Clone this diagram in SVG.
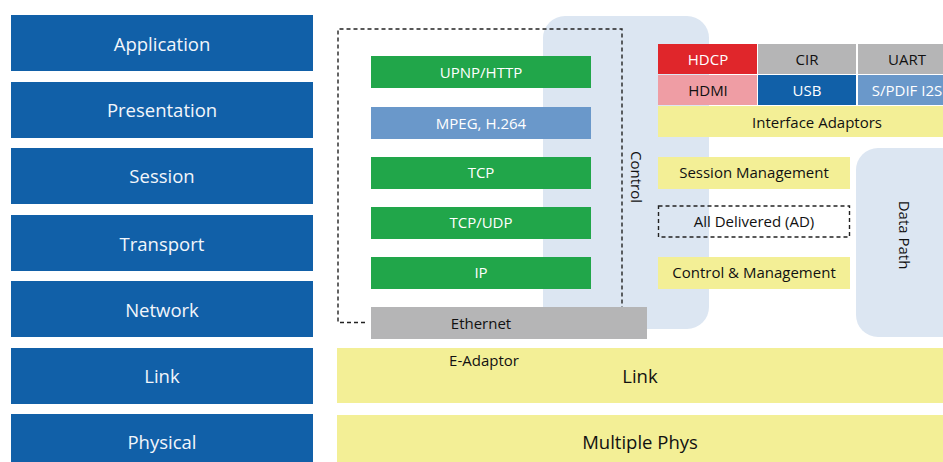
<svg xmlns="http://www.w3.org/2000/svg" width="943" height="462" viewBox="0 0 943 462">
<style>
text{font-family:"Open Sans","Liberation Sans",sans-serif;text-anchor:middle;dominant-baseline:central}
.osi{fill:#1160A8}
.osit{fill:#F2F6FB;font-size:18.5px}
.g{fill:#21A64A}
.lb{fill:#6A98CA}
.gr{fill:#B5B5B6}
.y{fill:#F3EF96}
.w{fill:#FFFFFF;font-size:15px}
.k{fill:#111111;font-size:15px}
.panel{fill:#DCE6F2}
.dash{fill:none;stroke:#222;stroke-width:1.4;stroke-dasharray:4 3}
</style>
<rect width="943" height="462" fill="#FFFFFF"/>
<g id="osi">
<g id="application"><rect class="osi" x="11" y="15" width="302" height="56"/><text class="osit" x="162" y="43">Application</text></g>
<g id="presentation"><rect class="osi" x="11" y="82" width="302" height="56"/><text class="osit" x="162" y="109">Presentation</text></g>
<g id="session"><rect class="osi" x="11" y="148" width="302" height="56"/><text class="osit" x="162" y="175">Session</text></g>
<g id="transport"><rect class="osi" x="11" y="215" width="302" height="56"/><text class="osit" x="162" y="243">Transport</text></g>
<g id="network"><rect class="osi" x="11" y="281" width="302" height="56"/><text class="osit" x="162" y="309">Network</text></g>
<g id="link"><rect class="osi" x="11" y="348" width="302" height="56"/><text class="osit" x="162" y="375">Link</text></g>
<g id="physical"><rect class="osi" x="11" y="414" width="302" height="50"/><text class="osit" x="162" y="441">Physical</text></g>
</g>
<g id="control-panel"><rect class="panel" x="543" y="16" width="166" height="313" rx="22"/><text class="k" transform="translate(637,177) rotate(90)">Control</text></g>
<g id="datapath-panel"><rect class="panel" x="856" y="148" width="110" height="189" rx="22"/><text class="k" transform="translate(905,235) rotate(90)">Data Path</text></g>
<g id="connectors"><path class="dash" d="M365,322.5 H338 V29 H622 V307"/></g>
<g id="upnp"><rect class="g" x="371" y="56" width="220" height="32"/><text class="w" x="481" y="72">UPNP/HTTP</text></g>
<g id="mpeg"><rect class="lb" x="371" y="107" width="220" height="32"/><text class="w" x="481" y="123">MPEG, H.264</text></g>
<g id="tcp"><rect class="g" x="371" y="157" width="220" height="32"/><text class="w" x="481" y="172">TCP</text></g>
<g id="tcpudp"><rect class="g" x="371" y="207" width="220" height="32"/><text class="w" x="481" y="222">TCP/UDP</text></g>
<g id="ip"><rect class="g" x="371" y="257" width="220" height="32"/><text class="w" x="481" y="272">IP</text></g>
<g id="ethernet"><rect class="gr" x="371" y="307" width="276" height="32"/><text class="k" x="481" y="323">Ethernet</text></g>
<g id="hdcp"><rect fill="#E0262B" x="658" y="44" width="99" height="30"/><text class="w" x="708" y="59">HDCP</text></g>
<g id="cir"><rect class="gr" x="758" y="44" width="98" height="30"/><text class="k" x="807" y="59">CIR</text></g>
<g id="uart"><rect class="gr" x="858" y="44" width="90" height="30"/><text class="k" x="907" y="59">UART</text></g>
<g id="hdmi"><rect fill="#EF9DA4" x="658" y="75" width="99" height="30"/><text class="k" x="708" y="90">HDMI</text></g>
<g id="usb"><rect class="osi" x="758" y="75" width="98" height="30"/><text class="w" x="807" y="90">USB</text></g>
<g id="spdif"><rect class="lb" x="858" y="75" width="90" height="30"/><text class="w" x="907" y="90">S/PDIF I2S</text></g>
<g id="interface-adaptors"><rect class="y" x="658" y="106" width="290" height="31"/><text class="k" x="817" y="122">Interface Adaptors</text></g>
<g id="session-management"><rect class="y" x="658" y="157" width="192" height="32"/><text class="k" x="754" y="172">Session Management</text></g>
<g id="all-delivered"><rect class="dash" fill="none" x="658.5" y="206" width="191" height="31"/><text class="k" x="754" y="221">All Delivered (AD)</text></g>
<g id="control-management"><rect class="y" x="658" y="257" width="192" height="32"/><text class="k" x="754" y="272">Control &amp; Management</text></g>
<g id="link-bar"><rect class="y" x="337" y="348" width="610" height="55"/><text class="k" x="484" y="360">E-Adaptor</text><text class="k" style="font-size:18.5px" x="640" y="375">Link</text></g>
<g id="phys-bar"><rect class="y" x="337" y="415" width="610" height="50"/><text class="k" style="font-size:18.5px" x="640" y="441">Multiple Phys</text></g>
</svg>
